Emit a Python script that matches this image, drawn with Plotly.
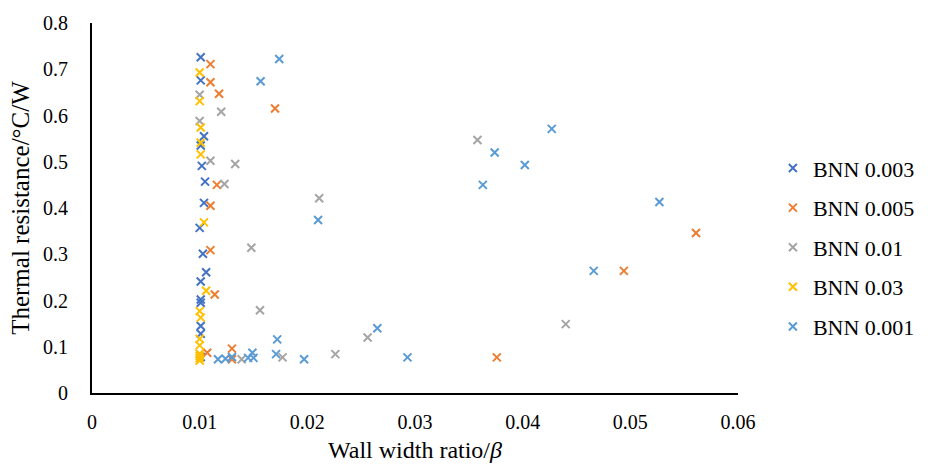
import plotly.graph_objects as go

names = ["BNN 0.003", "BNN 0.005", "BNN 0.01", "BNN 0.03", "BNN 0.001"]
colors = ["#4472C4", "#ED7D31", "#A5A5A5", "#FFC000", "#5B9BD5"]

x_bnn0003 = [0.0101, 0.0101, 0.0104, 0.0101, 0.0102, 0.0105, 0.0104, 0.0100, 0.0103,
             0.0106, 0.0101, 0.0101, 0.0101, 0.0101, 0.0101, 0.0101]
y_bnn0003 = [0.726, 0.676, 0.555, 0.535, 0.491, 0.457, 0.411, 0.357, 0.301,
             0.261, 0.241, 0.202, 0.195, 0.145, 0.128, 0.078]

x_bnn0005 = [0.0110, 0.0110, 0.0118, 0.0170, 0.0116, 0.0110, 0.0110, 0.0114, 0.0107,
             0.0130, 0.0130, 0.0376, 0.0494, 0.0561]
y_bnn0005 = [0.711, 0.672, 0.647, 0.615, 0.450, 0.405, 0.309, 0.213, 0.087,
             0.096, 0.073, 0.077, 0.264, 0.346]

x_bnn001 = [0.0100, 0.0120, 0.0100, 0.0110, 0.0133, 0.0123, 0.0211, 0.0148, 0.0156,
            0.0139, 0.0177, 0.0226, 0.0256, 0.0358, 0.0440]
y_bnn001 = [0.645, 0.608, 0.588, 0.502, 0.495, 0.452, 0.421, 0.314, 0.179,
            0.073, 0.077, 0.084, 0.120, 0.547, 0.149]

x_bnn003 = [0.0100, 0.0100, 0.0101, 0.0101, 0.0101, 0.0104, 0.0106, 0.0100, 0.0101,
            0.0100, 0.0100, 0.0100, 0.0100, 0.0100, 0.0100]
y_bnn003 = [0.693, 0.631, 0.574, 0.541, 0.516, 0.369, 0.221, 0.177, 0.163,
            0.117, 0.103, 0.085, 0.080, 0.075, 0.070]

x_bnn0001 = [0.01739, 0.01566, 0.0210, 0.0427, 0.0374, 0.0402, 0.0363, 0.0527, 0.0466,
             0.0265, 0.0172, 0.0171, 0.0197, 0.0293, 0.0117, 0.0124, 0.0130, 0.0145,
             0.0149, 0.0150]
y_bnn0001 = [0.722, 0.674, 0.374, 0.571, 0.520, 0.493, 0.450, 0.413, 0.264,
             0.140, 0.116, 0.084, 0.073, 0.077, 0.073, 0.074, 0.078, 0.076,
             0.087, 0.076]

xs = [x_bnn0003, x_bnn0005, x_bnn001, x_bnn003, x_bnn0001]
ys = [y_bnn0003, y_bnn0005, y_bnn001, y_bnn003, y_bnn0001]

x_ticks = [0, 0.01, 0.02, 0.03, 0.04, 0.05, 0.06]
y_ticks = [0, 0.1, 0.2, 0.3, 0.4, 0.5, 0.6, 0.7, 0.8]

FONT = "Liberation Serif, Times New Roman, serif"

fig = go.Figure()
for i, (n, c, x, y) in enumerate(zip(names, colors, xs, ys)):
    fig.add_trace(go.Scatter(
        x=x, y=y, mode="markers", name=n, legendgroup=f"g{i}",
        marker=dict(symbol="x-thin", size=8, color=c, line=dict(width=2, color=c)),
    ))

fig.update_layout(
    width=932, height=471,
    margin=dict(l=92, r=194, t=19, b=76),
    paper_bgcolor="white", plot_bgcolor="white",
    font=dict(family=FONT, color="#000000", size=20),
    showlegend=True,
    legend=dict(
        x=1.054, xanchor="left", y=0.394, yanchor="middle",
        font=dict(family=FONT, size=22, color="#000000"),
        itemwidth=30, tracegroupgap=8, bgcolor="rgba(0,0,0,0)",
    ),
    xaxis=dict(
        range=[0, 0.06], tickvals=x_ticks, ticktext=[f"{v:g}" for v in x_ticks],
        showgrid=False, zeroline=False, showline=True, linecolor="#000000", linewidth=2,
        ticks="", ticklabelstandoff=10,
        tickfont=dict(family=FONT, size=20, color="#000000"),
        title=dict(text="Wall width ratio/<i>β</i>", font=dict(family=FONT, size=24, color="#000000"), standoff=9),
    ),
    yaxis=dict(
        range=[0, 0.8], tickvals=y_ticks, ticktext=[f"{v:g}" for v in y_ticks],
        showgrid=False, zeroline=False, showline=True, linecolor="#000000", linewidth=2,
        ticks="", ticklabelstandoff=18,
        tickfont=dict(family=FONT, size=20, color="#000000"),
        title=dict(text="Thermal resistance/°C/W", font=dict(family=FONT, size=25, color="#000000"), standoff=6),
    ),
)

fig.write_html("out.html")
